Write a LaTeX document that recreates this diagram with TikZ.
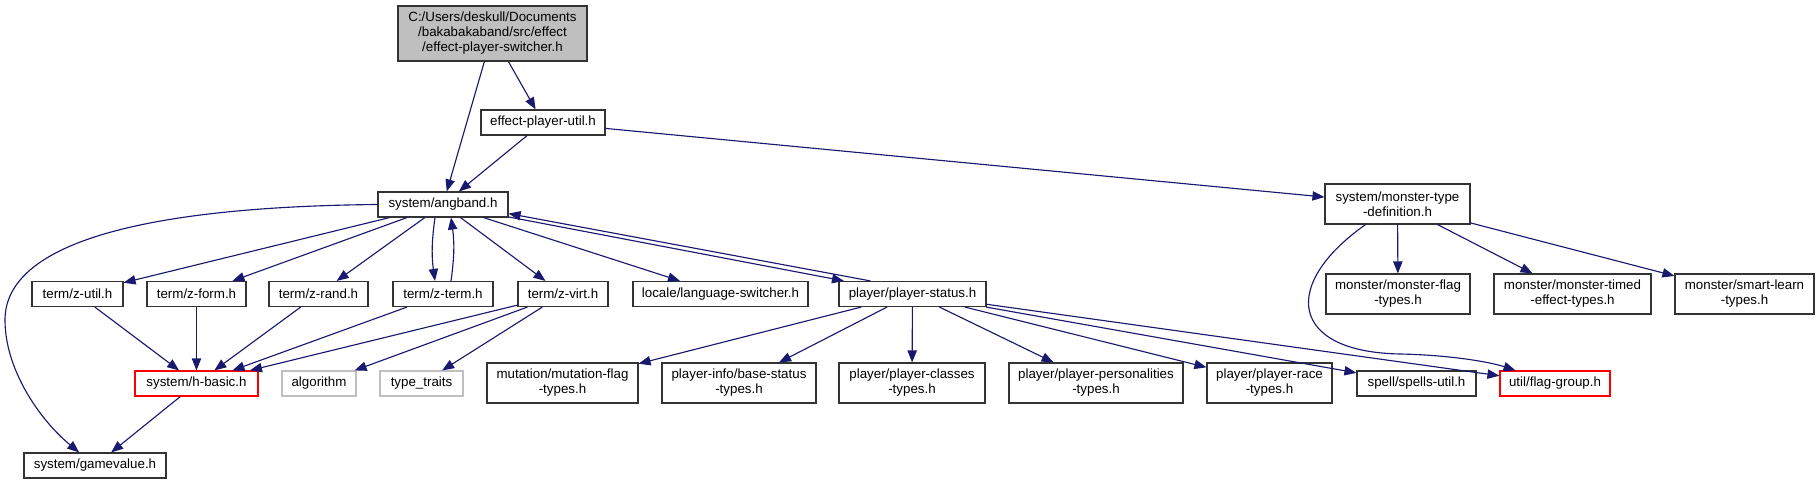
\documentclass[tikz,border=0pt]{standalone}
\usepackage{fontspec}
\setmainfont{Liberation Sans}
\usetikzlibrary{arrows.meta}
\definecolor{edgeBlue}{HTML}{191970}
\definecolor{rootGray}{HTML}{BFBFBF}
\definecolor{lostRed}{HTML}{FF0000}
\definecolor{extGray}{HTML}{BFBFBF}

\begin{document}
\begin{tikzpicture}[x=0.75pt,y=-0.75pt,
  hdr/.style={draw=black!80,line width=0.85pt,fill=white,inner sep=0pt,align=center,
    minimum height=18.75pt,font=\fontsize{10}{11.25}\selectfont},
  bw/.style={minimum width=#1*0.75pt},
  two/.style={minimum height=30pt},
  lost/.style={draw=lostRed},
  ext/.style={draw=extGray},
  dep/.style={-{Triangle[length=9pt,width=7pt]},draw=edgeBlue,line width=0.85pt}
]
  \path[fill=white] (0,0) rectangle (1819,484);

  % top rows
  \node[hdr,bw=189,minimum height=41.25pt,fill=rootGray] (root) at (492.5,33.5)
    {C:/Users/deskull/Documents\\/bakabakaband/src/effect\\/effect-player-switcher.h};
  \node[hdr,bw=124] (epu) at (543,122.5) {effect-player-util.h};
  \node[hdr,bw=130] (angband) at (443,204.5) {system/angband.h};
  \node[hdr,bw=145,two] (mtd) at (1397.5,204) {system/monster-type\\-definition.h};

  % row of term headers
  \node[hdr,bw=91] (zutil) at (77.5,294) {term/z-util.h};
  \node[hdr,bw=99] (zform) at (196.5,294) {term/z-form.h};
  \node[hdr,bw=99] (zrand) at (318.5,294) {term/z-rand.h};
  \node[hdr,bw=100] (zterm) at (443,294) {term/z-term.h};
  \node[hdr,bw=90] (zvirt) at (563,294) {term/z-virt.h};
  \node[hdr,bw=175] (lang) at (720.5,294) {locale/language-switcher.h};
  \node[hdr,bw=147] (pstatus) at (912.5,294) {player/player-status.h};
  \node[hdr,bw=144,two] (mflag) at (1398,294) {monster/monster-flag\\-types.h};
  \node[hdr,bw=157,two] (mtimed) at (1572.5,294) {monster/monster-timed\\-effect-types.h};
  \node[hdr,bw=139,two] (smart) at (1744.5,294) {monster/smart-learn\\-types.h};

  % lower rows
  \node[hdr,bw=123,lost] (hbasic) at (196.5,383.5) {system/h-basic.h};
  \node[hdr,bw=74,ext] (algo) at (319,383.5) {algorithm};
  \node[hdr,bw=83,ext] (traits) at (421.5,383.5) {type\_traits};
  \node[hdr,bw=151,two] (mutation) at (562.5,383) {mutation/mutation-flag\\-types.h};
  \node[hdr,bw=154,two] (basestat) at (739,383) {player-info/base-status\\-types.h};
  \node[hdr,bw=146,two] (classes) at (912,383) {player/player-classes\\-types.h};
  \node[hdr,bw=174,two] (persona) at (1096,383) {player/player-personalities\\-types.h};
  \node[hdr,bw=125,two] (race) at (1269.5,383) {player/player-race\\-types.h};
  \node[hdr,bw=119] (spells) at (1416.5,383.5) {spell/spells-util.h};
  \node[hdr,bw=110,lost] (flaggrp) at (1555,383.5) {util/flag-group.h};
  \node[hdr,bw=142] (gamevalue) at (95,465.5) {system/gamevalue.h};

  % includes
  \draw[dep] (root) -- (angband);
  \draw[dep] (root) -- (epu);
  \draw[dep] (epu) -- (angband);
  \draw[dep] (epu) -- (mtd);
  \draw[dep] (angband.west) .. controls (120,207) and (5,250) .. (5,320)
    .. controls (5,370) and (40,420) .. (gamevalue);
  \draw[dep] (angband) -- (zutil);
  \draw[dep] (angband) -- (zform);
  \draw[dep] (angband) -- (zrand);
  \draw[dep] ([xshift=-6pt]angband.south) to[bend right=8] ([xshift=-6pt]zterm.north);
  \draw[dep] ([xshift=6pt]zterm.north) to[bend right=8] ([xshift=6pt]angband.south);
  \draw[dep] (angband) -- (zvirt);
  \draw[dep] (angband) -- (lang);
  \draw[dep] (angband) -- (pstatus);
  \draw[dep] ([xshift=24pt]pstatus.north west) -- ([yshift=3pt]angband.south east);
  \draw[dep] (zutil) -- (hbasic);
  \draw[dep] (zform) -- (hbasic);
  \draw[dep] (zrand) -- (hbasic);
  \draw[dep] (zterm) -- (hbasic);
  \draw[dep] (zvirt) -- (hbasic);
  \draw[dep] (zvirt) -- (algo);
  \draw[dep] (zvirt) -- (traits);
  \draw[dep] (hbasic) -- (gamevalue);
  \draw[dep] (pstatus) -- (mutation);
  \draw[dep] (pstatus) -- (basestat);
  \draw[dep] (pstatus) -- (classes);
  \draw[dep] (pstatus) -- (persona);
  \draw[dep] (pstatus) -- (race);
  \draw[dep] (pstatus) -- (spells);
  \draw[dep] (pstatus) -- (flaggrp);
  \draw[dep] (mtd) -- (mflag);
  \draw[dep] (mtd) -- (mtimed);
  \draw[dep] (mtd) -- (smart);
  \draw[dep] ([xshift=-24pt]mtd.south) .. controls (1280,285) and (1290,352) .. (1400,354)
    .. controls (1450,355) and (1490,362) .. (flaggrp);
\end{tikzpicture}
\end{document}
